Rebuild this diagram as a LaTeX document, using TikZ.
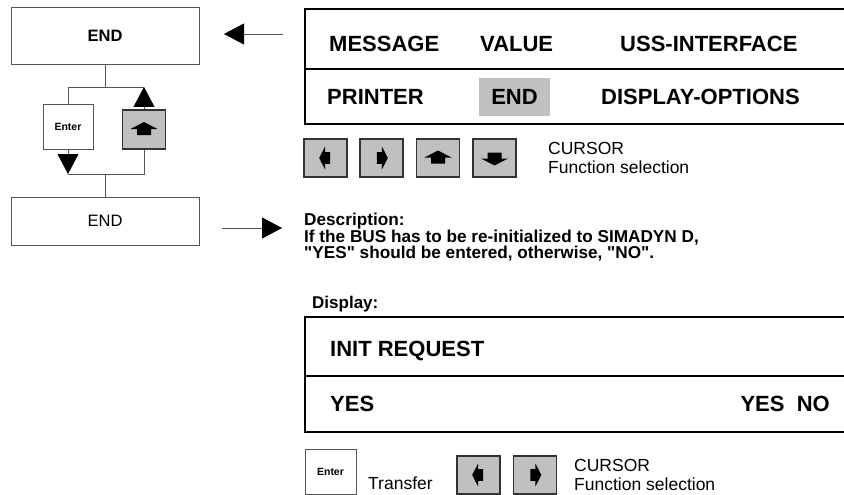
\documentclass[tikz,border=0pt]{standalone}
\usepackage{fontspec}
\setmainfont{Liberation Sans}
\usetikzlibrary{arrows.meta}

\definecolor{keygray}{RGB}{192,192,192}
\definecolor{linegray}{RGB}{85,85,85}

\tikzset{
  menubox/.style={draw=linegray, line width=0.9pt, minimum width=188pt, inner sep=0pt},
  keybox/.style={draw=black!80, line width=1.2pt, fill=keygray, minimum width=43pt, minimum height=38pt, inner sep=0pt},
  enterbox/.style={draw=linegray, line width=0.9pt, fill=white, inner sep=0pt,
    font=\fontsize{10.5}{12}\selectfont\bfseries},
  disptext/.style={anchor=west, inner sep=0pt, font=\fontsize{22}{26}\selectfont\bfseries},
  helptext/.style={anchor=north west, inner sep=0pt, align=left, font=\fontsize{17.5}{19}\selectfont},
  dispframe/.style={line width=1.8pt},
  flow/.style={draw=linegray, line width=0.9pt},
  bigtip/.style={-{Triangle[length=20pt,width=21pt,color=black]}},
  keyarrow/.pic={\fill (0,-7.5) -- (13.5,-0.5) -- (7,-0.5) -- (7,5.5) -- (-7,5.5) -- (-7,-0.5) -- (-13.5,-0.5) -- cycle;}
}

\begin{document}
\begin{tikzpicture}[x=1pt, y=-1pt]

    \useasboundingbox (0,0) rectangle (844,495);
    \clip (0,0) rectangle (844,495);

    % Menu flow on the left
    \node[menubox, minimum height=57pt, font=\fontsize{16.5}{18}\selectfont\bfseries] (topend) at (105,35.5) {END};
    \node[menubox, minimum height=48pt, font=\fontsize{16.5}{18}\selectfont] (botend) at (105,221) {END};
    \node[enterbox, minimum width=50pt, minimum height=45pt] (enterkey) at (68,126.5) {Enter};
    \node[keybox, minimum height=39pt] (upkey) at (144,129.5) {};
    \pic at (upkey) {keyarrow};

    \coordinate (split) at (105,87);
    \coordinate (join) at (105,174);
    \draw[flow] (topend.south) -- (split);
    \draw[flow] (enterkey.north) |- (upkey.north |- split);
    \draw[flow, bigtip] (upkey.north) -- (upkey.north |- split);
    \draw[flow, bigtip] (enterkey.south) -- (enterkey.south |- join);
    \draw[flow] (enterkey.south |- join) -| (upkey.south);
    \draw[flow] (join) -- (botend.north);

    % Arrows to the texts
    \coordinate (fromdisp) at (283,34);
    \coordinate (intoend) at (224,34);
    \coordinate (fromend) at (222,228);
    \coordinate (intodescr) at (282,228);
    \draw[flow, bigtip] (fromdisp) -- (intoend);
    \draw[flow, bigtip] (fromend) -- (intodescr);

    % Menu display
    \draw[dispframe] (305,9) rectangle (870,124);
    \draw[dispframe] (305,69) -- (870,69);
    \node[disptext] (message) at (329,44) {MESSAGE};
    \node[disptext] (value) at (480,44) {VALUE};
    \node[disptext] (uss) at (620,44) {USS-INTERFACE};
    \node[disptext] (printer) at (327,97) {PRINTER};
    \node[fill=keygray, minimum width=71pt, minimum height=38pt, inner sep=0pt,
          font=\fontsize{22}{26}\selectfont\bfseries] (endsel) at (514.5,97) {END};
    \node[disptext] (dispopt) at (601,97) {DISPLAY-OPTIONS};

    % Cursor keys
    \node[keybox] (kleft) at (325.5,158) {};
    \node[keybox] (kright) at (381.5,158) {};
    \node[keybox] (kup) at (438,158) {};
    \node[keybox] (kdown) at (494.5,158) {};
    \pic[rotate=90, scale=0.85] at (kleft) {keyarrow};
    \pic[rotate=-90, scale=0.85] at (kright) {keyarrow};
    \pic at (kup) {keyarrow};
    \pic[rotate=180] at (kdown) {keyarrow};
    \node[helptext] (cursor) at (548,141.7) {CURSOR\\Function selection};

    % Description
    \node[anchor=north west, inner sep=0pt, align=left, font=\fontsize{17.2}{16}\selectfont\bfseries]
      (descr) at (304,212.5)
      {Description:\\If the BUS has to be re-initialized to SIMADYN D,\\\textquotedbl YES\textquotedbl{} should be entered, otherwise, \textquotedbl NO\textquotedbl.};
    \node[anchor=base west, inner sep=0pt, font=\fontsize{17}{19}\selectfont\bfseries] (display) at (312,308) {Display:};

    % Request display
    \draw[dispframe] (305,317) rectangle (870,432);
    \draw[dispframe] (305,376) -- (870,376);
    \node[disptext] (initreq) at (330,351) {INIT REQUEST};
    \node[disptext] (yes) at (330,404) {YES};
    \node[disptext, anchor=east] (yesno) at (830,404) {YES\ \ NO};

    % Keys below
    \node[enterbox, minimum width=51pt, minimum height=45pt] (enterbot) at (330.5,471.5) {Enter};
    \node[anchor=west, inner sep=0pt, font=\fontsize{17.5}{19}\selectfont] (transfer) at (368,483) {Transfer};
    \node[keybox] (bleft) at (478.5,475) {};
    \node[keybox] (bright) at (535,475) {};
    \pic[rotate=90, scale=0.85] at (bleft) {keyarrow};
    \pic[rotate=-90, scale=0.85] at (bright) {keyarrow};
    \node[helptext] (cursorbot) at (574,458.7) {CURSOR\\Function selection};

\end{tikzpicture}
\end{document}
